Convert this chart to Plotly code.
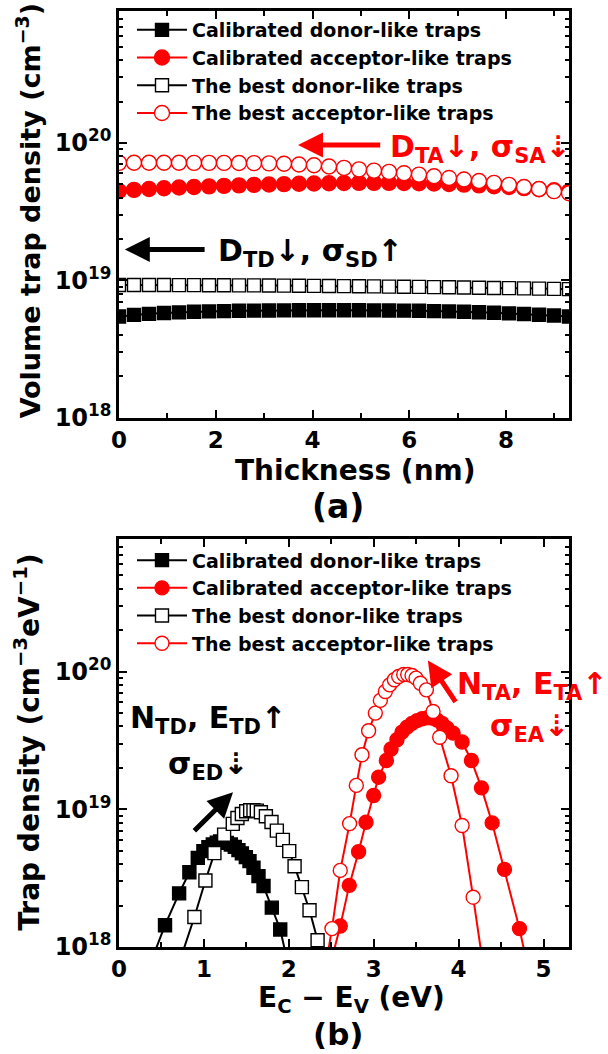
import plotly.graph_objects as go

# ---------------- panel (a): volume trap density vs. film thickness ----------------
thickness_nm = [0.00, 0.31, 0.62, 0.93, 1.24, 1.55, 1.86, 2.17, 2.48, 2.79, 3.10,
                3.41, 3.72, 4.03, 4.34, 4.65, 4.96, 5.27, 5.58, 5.89, 6.20, 6.51,
                6.82, 7.13, 7.44, 7.75, 8.06, 8.37, 8.68, 8.99, 9.30]

cal_donor_vol = [5.45e18, 5.60e18, 5.70e18, 5.78e18, 5.84e18, 5.90e18, 5.94e18, 5.97e18,
                 6.00e18, 6.02e18, 6.03e18, 6.04e18, 6.05e18, 6.05e18, 6.05e18, 6.05e18,
                 6.05e18, 6.04e18, 6.03e18, 6.02e18, 6.00e18, 5.97e18, 5.94e18, 5.90e18,
                 5.85e18, 5.80e18, 5.74e18, 5.68e18, 5.62e18, 5.55e18, 5.45e18]

cal_acceptor_vol = [4.47e19, 4.55e19, 4.62e19, 4.68e19, 4.73e19, 4.78e19, 4.83e19, 4.87e19,
                    4.91e19, 4.95e19, 4.98e19, 5.01e19, 5.04e19, 5.07e19, 5.09e19, 5.11e19,
                    5.12e19, 5.12e19, 5.12e19, 5.11e19, 5.09e19, 5.06e19, 5.02e19, 4.97e19,
                    4.91e19, 4.84e19, 4.77e19, 4.69e19, 4.60e19, 4.52e19, 4.44e19]

best_donor_vol = [9.25e18, 9.25e18, 9.24e18, 9.24e18, 9.23e18, 9.22e18, 9.21e18, 9.20e18,
                  9.19e18, 9.18e18, 9.16e18, 9.15e18, 9.13e18, 9.11e18, 9.09e18, 9.07e18,
                  9.05e18, 9.03e18, 9.00e18, 8.98e18, 8.95e18, 8.92e18, 8.89e18, 8.86e18,
                  8.83e18, 8.80e18, 8.77e18, 8.74e18, 8.70e18, 8.66e18, 8.62e18]

best_acceptor_vol = [7.16e19, 7.17e19, 7.17e19, 7.17e19, 7.17e19, 7.16e19, 7.16e19, 7.15e19,
                     7.14e19, 7.13e19, 7.10e19, 7.05e19, 6.97e19, 6.87e19, 6.74e19, 6.58e19,
                     6.42e19, 6.28e19, 6.15e19, 6.02e19, 5.88e19, 5.72e19, 5.56e19, 5.42e19,
                     5.28e19, 5.12e19, 4.95e19, 4.78e19, 4.62e19, 4.46e19, 4.30e19]

# ---------------- panel (b): trap density vs. energy ----------------
cal_donor_E = [0.40, 0.542, 0.708, 0.829, 0.928, 0.994, 1.053, 1.105, 1.152, 1.191, 1.230,
               1.270, 1.317, 1.364, 1.407, 1.447, 1.494, 1.537, 1.584, 1.643, 1.702, 1.800,
               1.899, 2.00]
cal_donor_N = [8.5e17, 1.44e18, 2.45e18, 3.49e18, 4.44e18, 4.97e18, 5.31e18, 5.55e18,
               5.73e18, 5.83e18, 5.79e18, 5.70e18, 5.55e18, 5.33e18, 5.05e18, 4.78e18,
               4.49e18, 4.20e18, 3.76e18, 3.27e18, 2.77e18, 1.93e18, 1.34e18, 7.1e17]

best_donor_E = [0.70, 0.888, 1.018, 1.124, 1.238, 1.340, 1.395, 1.447, 1.498, 1.545, 1.584,
                1.623, 1.671, 1.730, 1.796, 1.859, 1.930, 2.005, 2.068, 2.154, 2.244, 2.339,
                2.42]
best_donor_N = [7.4e17, 1.65e18, 3.04e18, 4.80e18, 6.55e18, 7.83e18, 8.65e18, 9.25e18,
                9.68e18, 9.84e18, 9.84e18, 9.77e18, 9.51e18, 8.89e18, 8.09e18, 7.00e18,
                6.00e18, 4.97e18, 3.86e18, 2.72e18, 1.85e18, 1.12e18, 6.3e17]

cal_acceptor_E = [2.45, 2.606, 2.712, 2.822, 2.909, 2.999, 3.058, 3.149, 3.204, 3.274, 3.333,
                  3.392, 3.451, 3.510, 3.569, 3.628, 3.687, 3.746, 3.805, 3.864, 3.935, 4.041,
                  4.151, 4.269, 4.395, 4.540, 4.717, 4.85]
cal_acceptor_N = [6.0e17, 1.42e18, 2.80e18, 4.91e18, 8.05e18, 1.26e19, 1.71e19, 2.26e19,
                  2.74e19, 3.20e19, 3.63e19, 3.95e19, 4.20e19, 4.40e19, 4.54e19, 4.61e19,
                  4.59e19, 4.44e19, 4.20e19, 3.88e19, 3.57e19, 3.08e19, 2.26e19, 1.43e19,
                  7.96e18, 3.66e18, 1.36e18, 5.6e17]

best_acceptor_E = [2.42, 2.508, 2.606, 2.716, 2.795, 2.862, 2.940, 3.019, 3.078, 3.137, 3.188,
                   3.243, 3.294, 3.353, 3.400, 3.451, 3.498, 3.550, 3.620, 3.699, 3.777, 3.911,
                   4.041, 4.171, 4.30]
best_acceptor_N = [6.3e17, 1.36e18, 3.60e18, 7.87e18, 1.49e19, 2.49e19, 3.72e19, 4.99e19,
                   6.17e19, 7.16e19, 8.00e19, 8.71e19, 9.20e19, 9.51e19, 9.51e19, 9.35e19,
                   8.95e19, 8.22e19, 7.36e19, 5.13e19, 3.33e19, 1.75e19, 7.62e18, 2.30e18,
                   6.6e17]

series_names = ["Calibrated donor-like traps", "Calibrated acceptor-like traps",
                "The best donor-like traps", "The best acceptor-like traps"]

decade_vals = [1e18, 1e19, 1e20]
decade_text = ["10<sup>18</sup>", "10<sup>19</sup>", "10<sup>20</sup>"]
minor_vals = [float(m) * 10.0 ** e for e in (18, 19, 20) for m in range(2, 10)]

FONT = "DejaVu Sans"
RED = "#ff0000"
BLACK = "#000000"

W, H = 608, 1054
ML, MR, MT, MB = 119, 39, 8, 107
PW, PH = W - ML - MR, H - MT - MB


def px(xp):
    return (xp - ML) / PW


def py(yp):
    return (H - MB - yp) / PH


fig = go.Figure()


def add_series(x, y, name, color, symbol, filled, xa, ya, legend, size):
    fig.add_trace(go.Scatter(
        x=x, y=y, mode="lines+markers", name=name, xaxis=xa, yaxis=ya, legend=legend,
        line=dict(color=color, width=2),
        marker=dict(symbol=symbol, size=size, color=color if filled else "white",
                    line=dict(color=color, width=1.4)),
    ))


add_series(thickness_nm, cal_donor_vol, series_names[0], BLACK, "square", True, "x", "y", "legend", 13)
add_series(thickness_nm, cal_acceptor_vol, series_names[1], RED, "circle", True, "x", "y", "legend", 15)
add_series(thickness_nm, best_donor_vol, series_names[2], BLACK, "square", False, "x", "y", "legend", 13)
add_series(thickness_nm, best_acceptor_vol, series_names[3], RED, "circle", False, "x", "y", "legend", 15)

add_series(cal_donor_E, cal_donor_N, series_names[0], BLACK, "square", True, "x2", "y2", "legend2", 13)
add_series(cal_acceptor_E, cal_acceptor_N, series_names[1], RED, "circle", True, "x2", "y2", "legend2", 14)
add_series(best_donor_E, best_donor_N, series_names[2], BLACK, "square", False, "x2", "y2", "legend2", 13)
add_series(best_acceptor_E, best_acceptor_N, series_names[3], RED, "circle", False, "x2", "y2", "legend2", 14)

axis_common = dict(
    showline=True, linewidth=2.5, linecolor="black", mirror="ticks",
    ticks="inside", ticklen=8, tickwidth=2, tickcolor="black",
    showgrid=False, zeroline=False,
)
x_font = dict(family=FONT, size=23, color="black", weight="bold")
y_font = dict(family=FONT, size=24, color="black", weight="bold")

y_common = dict(axis_common, type="log", range=[18, 20.96], tickfont=y_font,
                tickvals=decade_vals, ticktext=decade_text,
                minor=dict(tickvals=minor_vals, ticks="inside", ticklen=4, tickwidth=1.5,
                           tickcolor="black"))

legend_style = dict(xanchor="left", yanchor="top", bgcolor="rgba(0,0,0,0)", itemwidth=50,
                    font=dict(family=FONT, size=19, color="black", weight="bold"))

fig.update_layout(
    width=W, height=H,
    margin=dict(l=ML, r=MR, t=MT, b=MB),
    paper_bgcolor="white", plot_bgcolor="white",
    font=dict(family=FONT, color="black", weight="bold"),
    xaxis=dict(axis_common, anchor="y", domain=[0, 1], range=[0, 9.3], dtick=2, tick0=0,
               tickfont=x_font,
               minor=dict(dtick=1, ticks="inside", ticklen=5, tickwidth=1.5, tickcolor="black")),
    yaxis=dict(y_common, anchor="x", domain=[py(416), 1]),
    xaxis2=dict(axis_common, anchor="y2", domain=[0, 1], range=[0, 5.3], dtick=1, tick0=0,
                tickfont=x_font,
                minor=dict(dtick=0.5, ticks="inside", ticklen=5, tickwidth=1.5, tickcolor="black")),
    yaxis2=dict(y_common, anchor="x2", domain=[0, py(538)]),
    legend=dict(legend_style, x=px(132), y=py(8)),
    legend2=dict(legend_style, x=px(132), y=py(540)),
)


def text_note(xp, yp, text, size, color="black", xanchor="center", angle=0):
    fig.add_annotation(x=px(xp), y=py(yp), xref="paper", yref="paper", text=text,
                       showarrow=False, xanchor=xanchor, yanchor="middle", textangle=angle,
                       font=dict(family=FONT, size=size, color=color, weight="bold"))


# axis titles and panel tags
text_note(28, 209, "Volume trap density (cm<sup>−3</sup>)", 27, angle=-90)
text_note(355, 469, "Thickness (nm)", 28)
text_note(338, 505, "(a)", 33)
text_note(28, 742, "Trap density (cm<sup>−3</sup>eV<sup>−1</sup>)", 28, angle=-90)
text_note(351, 1000, "E<sub>C</sub> − E<sub>V</sub> (eV)", 28)
text_note(338, 1034, "(b)", 31)


def arrow(xa, ya, x_tail, y_tail, x_head, y_head, color, width):
    fig.add_annotation(xref=xa, yref=ya, axref=xa, ayref=ya,
                       x=x_head, y=y_head, ax=x_tail, ay=y_tail, text="",
                       showarrow=True, arrowhead=2, arrowsize=1.0, arrowwidth=width,
                       arrowcolor=color)


# panel (a) trend annotations
arrow("x", "y", 5.43, 19.985, 3.70, 19.985, RED, 5)
text_note(388, 146, "D<sub>TA</sub>↓, σ<sub>SA</sub>⇣", 30, RED, "left")
arrow("x", "y", 1.80, 19.225, 0.12, 19.225, BLACK, 5)
text_note(216, 250, "D<sub>TD</sub>↓, σ<sub>SD</sub>↑", 30, BLACK, "left")

# panel (b) trend annotations
arrow("x2", "y2", 0.87, 18.833, 1.343, 19.123, BLACK, 5)
text_note(128, 719, "N<sub>TD</sub>, E<sub>TD</sub>↑", 30, BLACK, "left")
text_note(166, 765, "σ<sub>ED</sub>⇣", 30, BLACK, "left")
arrow("x2", "y2", 3.976, 19.768, 3.638, 20.080, RED, 5)
text_note(455, 685, "N<sub>TA</sub>, E<sub>TA</sub>↑", 30, RED, "left")
text_note(488, 727, "σ<sub>EA</sub>⇣", 30, RED, "left")

fig.write_html("out.html")
